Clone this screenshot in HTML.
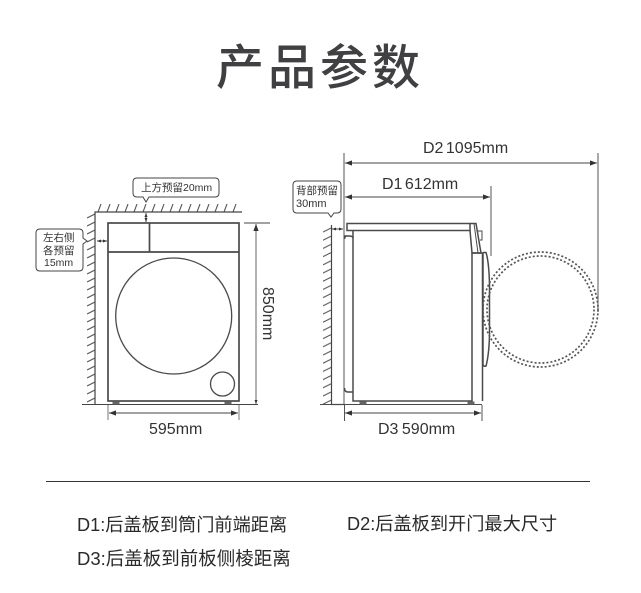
<!DOCTYPE html>
<html><head><meta charset="utf-8">
<style>
html,body{margin:0;padding:0;background:#fff;width:641px;height:593px;overflow:hidden}
svg{display:block}
text{font-family:"Liberation Sans","Noto Sans CJK SC",sans-serif;fill:#333335}
</style></head>
<body>
<svg width="641" height="593" viewBox="0 0 641 593" xmlns="http://www.w3.org/2000/svg">
<defs>
<pattern id="hh" width="9" height="8" patternUnits="userSpaceOnUse" x="96" y="204"><path d="M2 8L5 0" stroke="#555" stroke-width="1.100" fill="none"/></pattern>
<pattern id="hv" width="8" height="8" patternUnits="userSpaceOnUse" x="87" y="212"><path d="M0 6L8 2" stroke="#555" stroke-width="1.100" fill="none"/></pattern>
<pattern id="hv2" width="8" height="8.2" patternUnits="userSpaceOnUse" x="323" y="226"><path d="M0 6L8 2" stroke="#555" stroke-width="1.100" fill="none"/></pattern>
<marker id="a" viewBox="0 0 8 6" refX="8" refY="3" markerWidth="7" markerHeight="5.500" orient="auto-start-reverse" markerUnits="userSpaceOnUse"><path d="M0 0L8 3L0 6Z" fill="#333"/></marker>
<marker id="s" viewBox="0 0 8 6" refX="8" refY="3" markerWidth="4" markerHeight="4" orient="auto-start-reverse" markerUnits="userSpaceOnUse"><path d="M0 0L8 3L0 6Z" fill="#333"/></marker>
</defs>

<text y="84" x="216 268 320 372" font-size="48" font-weight="500" style="fill:#404042">产品参数</text>

<!-- Front view -->
<rect x="96" y="204" width="146" height="8" fill="url(#hh)"/>
<rect x="87" y="212" width="8" height="192" fill="url(#hv)"/>
<g fill="none" stroke="#444" stroke-width="1.200">
<path d="M242 212H95V404"/>
<path d="M82 404.500H258" stroke-width="1"/>
</g>
<g fill="none" stroke="#4a4a4a" stroke-width="1.700">
<rect x="108" y="223" width="131" height="178"/>
<path d="M108 252H239M149.500 223V252"/>
</g>
<g fill="none" stroke="#4a4a4a" stroke-width="1.300">
<circle cx="173.700" cy="316" r="58"/>
<circle cx="222.500" cy="384" r="12"/>
</g>
<path d="M113 404V402H119V404ZM225 404V402H231V404Z" fill="#666" stroke="#666"/>
<path d="M146 213V222" stroke="#444" stroke-width="1" marker-start="url(#s)" marker-end="url(#s)"/>
<path d="M97 241H107" stroke="#444" stroke-width="1" marker-start="url(#s)" marker-end="url(#s)"/>
<path d="M108 405V420M239 405V420" stroke="#777" stroke-width="1"/>
<path d="M109 413H238" stroke="#444" stroke-width="1" marker-start="url(#a)" marker-end="url(#a)"/>
<path d="M244 223H270" stroke="#444" stroke-width="1"/>
<path d="M256 224V404" stroke="#666" stroke-width="1" marker-start="url(#a)" marker-end="url(#s)"/>
<text x="149" y="434" font-size="16">595mm</text>
<text transform="translate(263 287) rotate(90)" font-size="16">850mm</text>

<path d="M137 178H215Q219 178 219 182V193Q219 197 215 197H149L146 202L143 197H137Q133 197 133 193V182Q133 178 137 178Z" fill="#fff" stroke="#444" stroke-width="1"/>
<text x="141" y="191" font-size="10.500">上方预留20mm</text>
<path d="M40 229H79Q83 229 83 233V238L87 241L83 244V267Q83 271 79 271H40Q36 271 36 267V233Q36 229 40 229Z" fill="#fff" stroke="#444" stroke-width="1"/>
<text x="43" y="241" font-size="10.500">左右侧</text>
<text x="43" y="254" font-size="10.500">各预留</text>
<text x="44" y="266" font-size="10.500">15mm</text>

<!-- Side view -->
<rect x="323" y="226" width="8" height="178" fill="url(#hv2)"/>
<path d="M331.500 225V404.500H344" fill="none" stroke="#444" stroke-width="1.200"/>
<path d="M344 153V405M344.500 405V421M491 186V256M598 153V312M482 405V421" stroke="#555" stroke-width="1" fill="none"/>
<path d="M345 163H597" stroke="#444" stroke-width="1" marker-start="url(#a)" marker-end="url(#a)"/>
<path d="M345 197H490" stroke="#444" stroke-width="1" marker-start="url(#a)" marker-end="url(#a)"/>
<path d="M345 413H481" stroke="#444" stroke-width="1" marker-start="url(#a)" marker-end="url(#a)"/>
<path d="M332 229H343" stroke="#444" stroke-width="1" marker-start="url(#s)" marker-end="url(#s)"/>
<g fill="none" stroke="#4a4a4a" stroke-width="1.500">
<path d="M347 223.500H470V230.500H347Z"/>
<path d="M353 231V401H472V253"/>
<path d="M320 404.500H482" stroke-width="1"/>
<path d="M344.500 236H349Q353 236 353 238M344.500 239Q344.500 236 347 236M344.500 388Q344.500 392 348 392H353"/>
<path d="M470 223.500H476L481 253H472L470 230.500"/>
<path d="M474 223.500L478 253" stroke-width="1"/>
<path d="M478 231H482V240H480" stroke-width="1"/>
<path d="M472 253H482.500V401M483 252.500H486Q489 262 489.500 285V335Q489 355 486 366Q483 367 483 364V252.500"/>
</g>
<path d="M360 404V402H366V404ZM468 404V402H474V404Z" fill="#666" stroke="#666"/>
<g fill="none" stroke="#555" stroke-width="1.700" stroke-dasharray="2 2">
<circle cx="540.500" cy="309.500" r="57.500"/>
<circle cx="540.500" cy="309.500" r="53.500"/>
</g>
<path d="M299 181H337Q341 181 341 185V209Q341 213 337 213H334L331 217L328 213H297Q293 213 293 209V185Q293 181 297 181Z" fill="#fff" stroke="#444" stroke-width="1"/>
<text x="296" y="194" font-size="10.500">背部预留</text>
<text x="296" y="207" font-size="11">30mm</text>
<text x="423" y="153" font-size="16" word-spacing="-2">D2 1095mm</text>
<text x="382" y="189" font-size="16" word-spacing="-2">D1 612mm</text>
<text x="378" y="434" font-size="16" word-spacing="-1">D3 590mm</text>

<path d="M46 481.500H590" stroke="#333" stroke-width="1"/>
<text x="77" y="531" font-size="18.200" style="fill:#2a2a2a">D1:后盖板到筒门前端距离</text>
<text x="347" y="530" font-size="18.200" style="fill:#2a2a2a">D2:后盖板到开门最大尺寸</text>
<text x="77" y="565" font-size="18.500" style="fill:#2a2a2a">D3:后盖板到前板侧棱距离</text>
</svg>
</body></html>
